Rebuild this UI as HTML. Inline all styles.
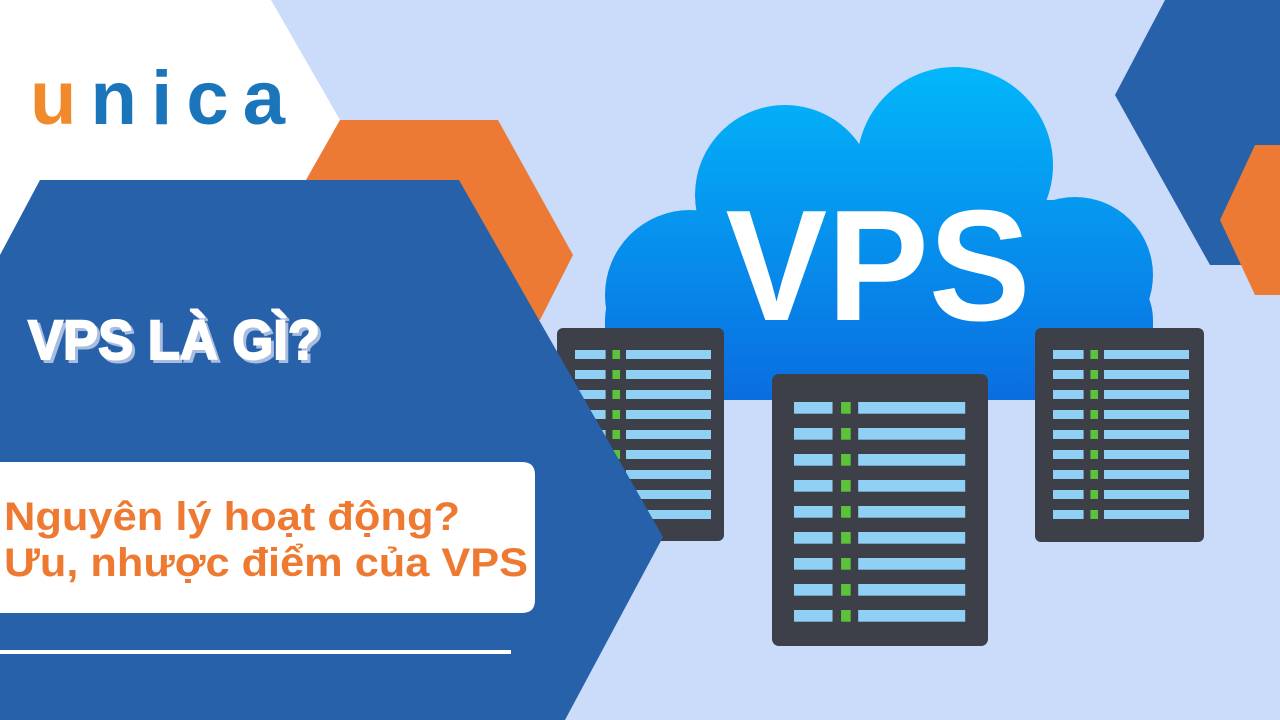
<!DOCTYPE html>
<html><head><meta charset="utf-8"><style>
html,body{margin:0;padding:0;width:1280px;height:720px;overflow:hidden;background:#cbdcfa}
svg{display:block}
</style></head><body>
<svg width="1280" height="720" viewBox="0 0 1280 720" xmlns="http://www.w3.org/2000/svg">
<defs>
<linearGradient id="cg" gradientUnits="userSpaceOnUse" x1="0" y1="70" x2="0" y2="400">
<stop offset="0" stop-color="#02b6fa"/><stop offset="1" stop-color="#0a6de0"/>
</linearGradient>
<g id="row">
<rect x="0" y="0" width="36" height="9" fill="#8fd0f4"/>
<rect x="44" y="0" width="9" height="9" fill="#5cc23a"/>
<rect x="60" y="0" width="100" height="9" fill="#8fd0f4"/>
</g>
</defs>
<rect width="1280" height="720" fill="#cbdcfa"/>
<polygon points="0,0 271,0 340,120 306,180 40,180 0,255" fill="#ffffff"/>
<polygon points="340,120 498,120 573,255 540,320 400,320 306,180" fill="#ec7a34"/>
<polygon points="1165,0 1280,0 1280,265 1210,265 1115,95" fill="#2761a9"/>
<polygon points="1255,145 1280,145 1280,295 1255,295 1220,220" fill="#ec7a34"/>
<g fill="url(#cg)">
<circle cx="690" cy="295" r="85"/>
<circle cx="785" cy="195" r="90"/>
<circle cx="955" cy="165" r="98"/>
<circle cx="1075" cy="275" r="78"/>
<rect x="605" y="260" width="548" height="140" rx="60"/>
<rect x="740" y="200" width="320" height="180"/>
</g>
<text x="878" y="320" text-anchor="middle" font-family="Liberation Sans, sans-serif" font-weight="bold" font-size="158" fill="#ffffff" textLength="305" lengthAdjust="spacingAndGlyphs">VPS</text>
<g>
<rect x="557" y="328" width="167" height="213" rx="6" fill="#3d4049"/>
<g transform="translate(575,350) scale(0.85,1)">
<use href="#row" y="0"/><use href="#row" y="20"/><use href="#row" y="40"/><use href="#row" y="60"/><use href="#row" y="80"/><use href="#row" y="100"/><use href="#row" y="120"/><use href="#row" y="140"/><use href="#row" y="160"/>
</g>
<rect x="1035" y="328" width="169" height="214" rx="6" fill="#3d4049"/>
<g transform="translate(1053,350) scale(0.85,1)">
<use href="#row" y="0"/><use href="#row" y="20"/><use href="#row" y="40"/><use href="#row" y="60"/><use href="#row" y="80"/><use href="#row" y="100"/><use href="#row" y="120"/><use href="#row" y="140"/><use href="#row" y="160"/>
</g>
<rect x="772" y="374" width="216" height="272" rx="7" fill="#3d4049"/>
<g transform="translate(794,402) scale(1.07,1.3)">
<use href="#row" y="0"/><use href="#row" y="20"/><use href="#row" y="40"/><use href="#row" y="60"/><use href="#row" y="80"/><use href="#row" y="100"/><use href="#row" y="120"/><use href="#row" y="140"/><use href="#row" y="160"/>
</g>
</g>
<polygon points="40,180 459,180 663,537 565,720 0,720 0,255" fill="#2761a9"/>
<text x="30" y="124" font-family="Liberation Sans, sans-serif" font-weight="bold" font-size="76" fill="#1a75bb" textLength="255" lengthAdjust="spacing"><tspan fill="#f08a2a">u</tspan>nica</text>
<text x="31" y="362" font-family="Liberation Sans, sans-serif" font-weight="bold" font-size="56" fill="#a8bde0" stroke="#a8bde0" stroke-width="2" textLength="292" lengthAdjust="spacingAndGlyphs">VPS LÀ GÌ?</text>
<text x="28" y="359" font-family="Liberation Sans, sans-serif" font-weight="bold" font-size="56" fill="#ffffff" stroke="#ffffff" stroke-width="2" textLength="292" lengthAdjust="spacingAndGlyphs">VPS LÀ GÌ?</text>
<path d="M0,462 H522 Q535,462 535,475 V600 Q535,613 522,613 H0 Z" fill="#ffffff"/>
<text x="4" y="530" font-family="Liberation Sans, sans-serif" font-weight="bold" font-size="40" fill="#ee7a32" textLength="456" lengthAdjust="spacingAndGlyphs">Nguyên lý hoạt động?</text>
<text x="4" y="576" font-family="Liberation Sans, sans-serif" font-weight="bold" font-size="40" fill="#ee7a32" textLength="524" lengthAdjust="spacingAndGlyphs">Ưu, nhược điểm của VPS</text>
<rect x="0" y="650" width="511" height="4" fill="#ffffff"/>
</svg>
</body></html>
